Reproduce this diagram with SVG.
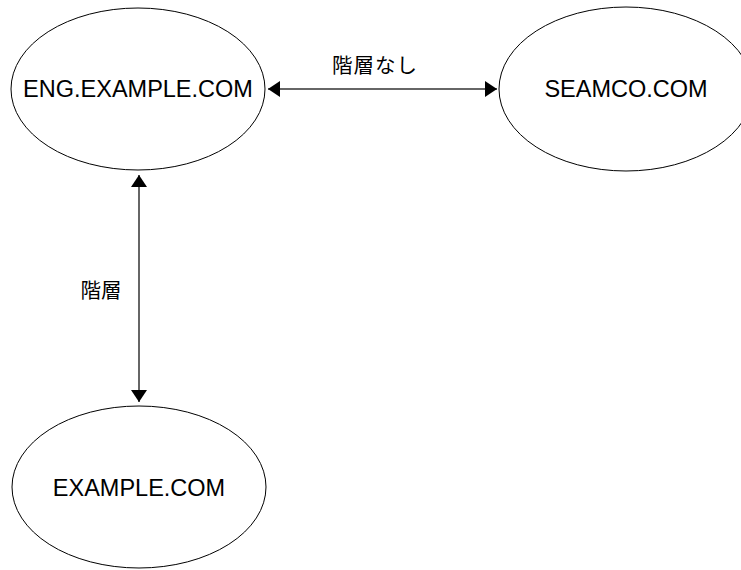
<svg xmlns="http://www.w3.org/2000/svg" width="741" height="570" viewBox="0 0 741 570">
<defs>
<style>
.node ellipse{fill:#fff;stroke:#000;stroke-width:1}
.node text{font-family:"Liberation Sans",Arial,sans-serif;font-size:23.5px;fill:#000;text-anchor:middle}
.edge line{stroke:#333;stroke-width:1.5}
.lbl{font-family:"Noto Sans CJK JP","Noto Sans",sans-serif;font-size:20.5px;fill:#000;text-anchor:middle}
</style>
<marker id="ah" viewBox="0 0 12 16" refX="12" refY="8" markerWidth="12" markerHeight="16" markerUnits="userSpaceOnUse" orient="auto-start-reverse">
<path d="M0,0 L12,8 L0,16 Z" fill="#000"/>
</marker>
</defs>
<rect width="741" height="570" fill="#fff"/>
<g id="connectors" class="edge">
<line x1="268" y1="89" x2="497" y2="89" marker-start="url(#ah)" marker-end="url(#ah)"/>
<text class="lbl" x="375" y="73" letter-spacing="1">階層なし</text>
<line x1="139" y1="175" x2="139" y2="402" marker-start="url(#ah)" marker-end="url(#ah)"/>
<text class="lbl" x="101" y="298">階層</text>
</g>
<g id="node-eng" class="node">
<ellipse cx="138" cy="89" rx="127" ry="81"/>
<text x="138" y="97">ENG.EXAMPLE.COM</text>
</g>
<g id="node-seamco" class="node">
<ellipse cx="626" cy="89" rx="127" ry="82"/>
<text x="626" y="97">SEAMCO.COM</text>
</g>
<g id="node-example" class="node">
<ellipse cx="139" cy="487" rx="127" ry="81"/>
<text x="139" y="496">EXAMPLE.COM</text>
</g>
</svg>
